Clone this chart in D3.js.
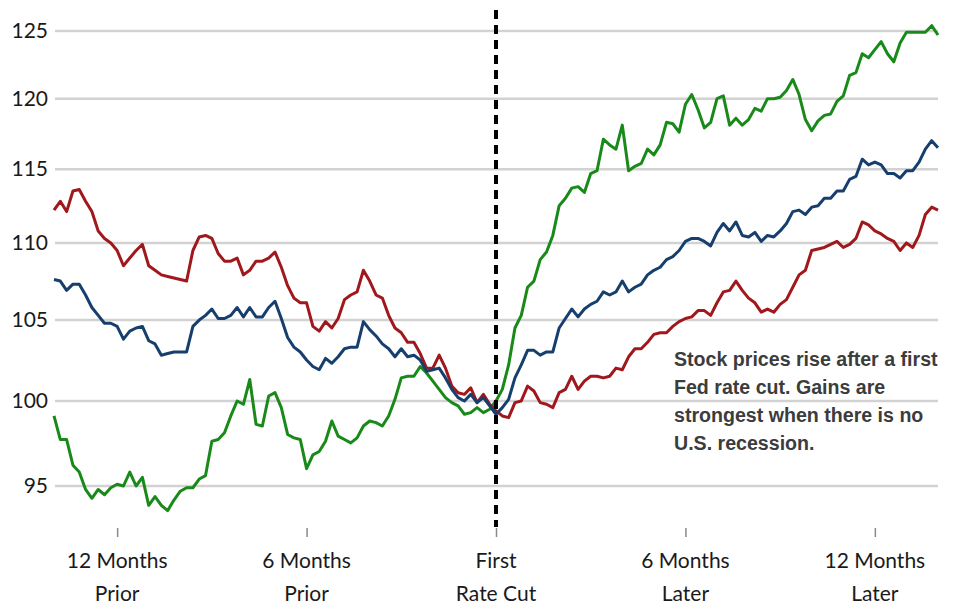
<!DOCTYPE html>
<html>
<head>
<meta charset="utf-8">
<script src="https://cdn.jsdelivr.net/npm/d3@7/dist/d3.min.js"></script>
<style>
  body { margin: 0; background: #fff; }
  svg { display: block; }
</style>
</head>
<body>
<div id="chart"></div>
<script>
// index level (first rate cut = 100), one point every 0.2 month from -14 to +14
var monthStart = -14;
var monthStep = 0.2;

var yTicks = [95, 100, 105, 110, 115, 120, 125];
var xTicks = [-12, -6, 0, 6, 12];
var xTickLabels = [["12 Months", "Prior"], ["6 Months", "Prior"], ["First", "Rate Cut"], ["6 Months", "Later"], ["12 Months", "Later"]];

var redValues = [
  112.2, 112.8, 112.1, 113.5, 113.6, 112.8, 112.1, 110.8, 110.3, 110.0,
  109.5, 108.5, 109.0, 109.5, 109.9, 108.5, 108.2, 107.9, 107.8, 107.7,
  107.6, 107.5, 109.5, 110.4, 110.5, 110.3, 109.3, 108.8, 108.8, 109.0,
  107.9, 108.2, 108.8, 108.8, 109.0, 109.4, 108.4, 107.2, 106.4, 106.1,
  106.1, 104.6, 104.3, 104.9, 104.5, 105.1, 106.3, 106.6, 106.8, 108.2,
  107.5, 106.6, 106.4, 105.3, 104.5, 104.2, 103.6, 103.6, 102.9, 102.0,
  102.0, 102.8, 102.0, 100.9, 100.5, 100.4, 100.8, 99.9, 100.4, 99.8,
  99.4, 99.1, 99.0, 99.9, 100.0, 100.9, 100.6, 99.9, 99.8, 99.6,
  100.5, 100.7, 101.5, 100.7, 101.2, 101.5, 101.5, 101.4, 101.5, 102.0,
  101.9, 102.7, 103.2, 103.2, 103.6, 104.1, 104.2, 104.2, 104.6, 104.9,
  105.1, 105.2, 105.6, 105.6, 105.3, 106.1, 106.8, 106.9, 107.5, 106.9,
  106.4, 106.1, 105.5, 105.7, 105.5, 106.0, 106.3, 107.1, 107.9, 108.2,
  109.5, 109.6, 109.7, 109.9, 110.1, 109.7, 109.9, 110.3, 111.4, 111.2,
  110.8, 110.6, 110.3, 110.1, 109.5, 110.0, 109.7, 110.5, 111.9, 112.4,
  112.2
];

var blueValues = [
  107.6, 107.5, 106.9, 107.3, 107.3, 106.6, 105.8, 105.3, 104.8, 104.8,
  104.6, 103.8, 104.3, 104.5, 104.6, 103.7, 103.5, 102.8, 102.9, 103.0,
  103.0, 103.0, 104.6, 105.0, 105.3, 105.7, 105.1, 105.1, 105.3, 105.8,
  105.2, 105.8, 105.2, 105.2, 105.8, 106.2, 105.1, 103.9, 103.3, 103.0,
  102.5, 102.1, 101.9, 102.6, 102.3, 102.7, 103.2, 103.3, 103.3, 104.9,
  104.4, 104.0, 103.5, 103.2, 102.7, 103.2, 102.7, 102.8, 102.5, 101.8,
  101.9, 102.0, 101.4, 100.7, 100.2, 100.0, 100.4, 99.9, 100.2, 99.7,
  99.2, 99.6, 100.1, 101.4, 102.2, 103.1, 103.1, 102.8, 103.0, 103.0,
  104.5, 105.1, 105.7, 105.2, 105.7, 106.0, 106.2, 106.8, 106.6, 106.8,
  107.5, 106.8, 107.1, 107.3, 107.9, 108.2, 108.4, 108.9, 109.1, 109.5,
  110.1, 110.3, 110.3, 110.1, 109.8, 110.7, 111.3, 110.8, 111.4, 110.5,
  110.4, 110.7, 110.1, 110.5, 110.4, 110.8, 111.3, 112.1, 112.2, 111.9,
  112.4, 112.5, 113.0, 113.0, 113.5, 113.5, 114.3, 114.5, 115.7, 115.3,
  115.5, 115.3, 114.7, 114.7, 114.4, 114.9, 114.9, 115.5, 116.4, 117.0,
  116.5
];

var greenValues = [
  99.1, 97.7, 97.7, 96.2, 95.8, 94.8, 94.3, 94.8, 94.5, 94.9,
  95.1, 95.0, 95.8, 95.0, 95.5, 93.9, 94.4, 93.9, 93.6, 94.2,
  94.7, 94.9, 94.9, 95.4, 95.6, 97.6, 97.7, 98.1, 99.1, 100.0,
  99.8, 101.3, 98.6, 98.5, 100.3, 100.5, 99.6, 98.0, 97.8, 97.7,
  96.0, 96.8, 97.0, 97.6, 98.8, 97.9, 97.7, 97.5, 97.8, 98.5,
  98.8, 98.7, 98.5, 99.1, 100.1, 101.4, 101.5, 101.5, 102.1, 101.7,
  101.2, 100.7, 100.2, 99.9, 99.7, 99.2, 99.3, 99.6, 99.3, 99.5,
  100.0, 100.7, 102.2, 104.5, 105.3, 107.1, 107.5, 108.9, 109.4, 110.5,
  112.5, 113.0, 113.7, 113.8, 113.4, 114.7, 114.9, 117.1, 116.7, 116.4,
  118.1, 114.9, 115.2, 115.4, 116.4, 116.0, 116.7, 118.3, 118.2, 117.6,
  119.6, 120.3, 119.2, 117.9, 118.3, 120.0, 120.2, 118.1, 118.6, 118.1,
  118.5, 119.3, 119.1, 120.0, 120.0, 120.1, 120.6, 121.4, 120.3, 118.5,
  117.7, 118.4, 118.8, 118.9, 119.8, 120.2, 121.7, 121.9, 123.3, 123.0,
  123.6, 124.2, 123.3, 122.7, 124.1, 124.9, 124.9, 124.9, 124.9, 125.4,
  124.7
];

var noteLines = ["Stock prices rise after a first", "Fed rate cut. Gains are", "strongest when there is no", "U.S. recession."];

var w = 953;
var h = 605;

var svg = d3.select("#chart").append("svg").attr("width", w).attr("height", h);

var xScale = d3.scaleLinear().domain([-14, 14]).range([54, 938]);
var yScale = d3.scaleLog().domain([95, 125]).range([486, 31]);

// horizontal grid
svg.append("g").selectAll("line")
    .data(yTicks)
    .enter()
    .append("line")
    .attr("x1", 55)
    .attr("x2", 938)
    .attr("y1", function (d) { return yScale(d); })
    .attr("y2", function (d) { return yScale(d); })
    .attr("stroke", "#d2d2d2")
    .attr("stroke-width", 2.5);

// y labels
var yAxis = d3.axisLeft(yScale).tickValues(yTicks).tickSize(0).tickPadding(0).tickFormat(d3.format("d"));
var yg = svg.append("g").attr("transform", "translate(48,0)").call(yAxis);
yg.select(".domain").remove();
yg.selectAll("text")
    .attr("font-family", "Lato, 'Open Sans', sans-serif")
    .attr("font-size", "21px")
    .attr("fill", "#1a1a1a");

// x ticks and two-line labels
var xAxis = d3.axisBottom(xScale).tickValues(xTicks).tickSize(9).tickFormat("");
var xg = svg.append("g").attr("transform", "translate(0,528)").call(xAxis);
xg.select(".domain").remove();
xg.selectAll(".tick line").attr("stroke", "#8a8a8a").attr("stroke-width", 1.5);

var labels = svg.append("g").selectAll("text")
    .data(xTicks)
    .enter()
    .append("text")
    .attr("text-anchor", "middle")
    .attr("font-family", "Lato, 'Open Sans', sans-serif")
    .attr("font-size", "21px")
    .attr("fill", "#1a1a1a");
labels.append("tspan")
    .attr("x", function (d) { return xScale(d); })
    .attr("y", 568)
    .text(function (d, i) { return xTickLabels[i][0]; });
labels.append("tspan")
    .attr("x", function (d) { return xScale(d); })
    .attr("y", 601)
    .text(function (d, i) { return xTickLabels[i][1]; });

// series
var months = d3.range(redValues.length).map(function (i) { return monthStart + i * monthStep; });
var line = d3.line()
    .x(function (d, i) { return xScale(months[i]); })
    .y(function (d) { return yScale(d); });

var series = [
    { values: greenValues, color: "#198a19" },
    { values: redValues, color: "#a0181c" },
    { values: blueValues, color: "#163f6e" }
];

svg.append("g").selectAll("path")
    .data(series)
    .enter()
    .append("path")
    .attr("d", function (d) { return line(d.values); })
    .attr("fill", "none")
    .attr("stroke", function (d) { return d.color; })
    .attr("stroke-width", 3)
    .attr("stroke-linejoin", "round");

// first rate cut marker
svg.append("line")
    .attr("x1", xScale(0))
    .attr("x2", xScale(0))
    .attr("y1", 10)
    .attr("y2", 527)
    .attr("stroke", "#000")
    .attr("stroke-width", 4)
    .attr("stroke-dasharray", "9,6");

// note
svg.append("g").selectAll("text")
    .data(noteLines)
    .enter()
    .append("text")
    .attr("x", 674)
    .attr("y", function (d, i) { return 366 + i * 28; })
    .attr("font-family", "'Liberation Sans Narrow', 'Arial Narrow', sans-serif")
    .attr("font-weight", "bold")
    .attr("font-size", "19.6px")
    .attr("fill", "#3c3c3c")
    .text(function (d) { return d; });
</script>
</body>
</html>
